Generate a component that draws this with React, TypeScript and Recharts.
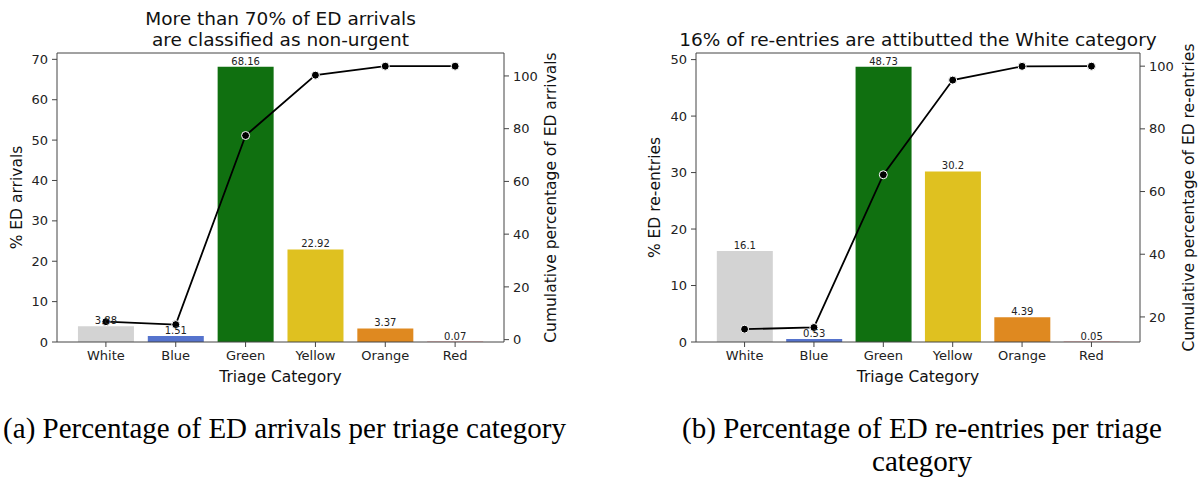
import React from 'react';
import { ComposedChart, Bar, Line, XAxis, YAxis, Cell, LabelList, ReferenceLine } from 'recharts';

const categories = ['White', 'Blue', 'Green', 'Yellow', 'Orange', 'Red'];
const barColors = ['#d3d3d3', '#5573cd', '#107010', '#dfc120', '#df8920', '#df2020'];

// (a) arrivals
const arrivalsPct = [3.88, 1.51, 68.16, 22.92, 3.37, 0.07];
const arrivalsCum = [6.8, 5.7, 77.4, 100.3, 103.7, 103.7];
const arrivalsPctTicks = [0, 10, 20, 30, 40, 50, 60, 70];
const arrivalsCumTicks = [0, 20, 40, 60, 80, 100];

// (b) re-entries
const reentryPct = [16.1, 0.53, 48.73, 30.2, 4.39, 0.05];
const reentryCum = [16.1, 16.63, 65.36, 95.56, 99.95, 100];
const reentryPctTicks = [0, 10, 20, 30, 40, 50];
const reentryCumTicks = [20, 40, 60, 80, 100];

const FONT = '"DejaVu Sans", sans-serif';
const SPINE = '#444';
const H = 400;
const TOP = 53;
const BOTTOM = 342;

interface PanelProps {
  x: number;
  width: number;
  leftW: number;
  rightW: number;
  pct: number[];
  cum: number[];
  pctDomain: [number, number];
  cumDomain: [number, number];
  pctTicks: number[];
  cumTicks: number[];
  title: string[];
  yLabel: string;
  cumLabel: string;
  yLabelX: number;
  cumLabelX: number;
  caption: string[];
}

const Panel: React.FC<PanelProps> = (p) => {
  const data = categories.map((c, i) => ({ cat: c, pct: p.pct[i], cum: p.cum[i] }));
  const plotW = p.width - p.leftW - p.rightW;
  const pad = plotW / 32;
  const cx = p.leftW + plotW / 2;
  const tick = { fontSize: 13, fill: '#222', fontFamily: FONT };
  return (
    <div style={{ position: 'absolute', left: p.x, top: 0, width: p.width, height: 479 }}>
      <ComposedChart
        width={p.width}
        height={H}
        data={data}
        margin={{ top: TOP, right: 0, bottom: 18, left: 0 }}
        barCategoryGap="10%"
      >
        <XAxis
          dataKey="cat"
          height={40}
          padding={{ left: pad, right: pad }}
          tick={tick}
          tickSize={5}
          tickMargin={4}
          axisLine={{ stroke: SPINE }}
          tickLine={{ stroke: SPINE }}
        />
        <YAxis
          yAxisId="pct"
          width={p.leftW}
          domain={p.pctDomain}
          ticks={p.pctTicks}
          allowDataOverflow
          tick={tick}
          tickSize={5}
          tickMargin={4}
          axisLine={{ stroke: SPINE }}
          tickLine={{ stroke: SPINE }}
        />
        <YAxis
          yAxisId="cum"
          orientation="right"
          width={p.rightW}
          domain={p.cumDomain}
          ticks={p.cumTicks}
          allowDataOverflow
          tick={tick}
          tickSize={5}
          tickMargin={4}
          axisLine={{ stroke: SPINE }}
          tickLine={{ stroke: SPINE }}
        />
        <ReferenceLine yAxisId="pct" y={p.pctDomain[1]} stroke={SPINE} />
        <Bar yAxisId="pct" dataKey="pct" isAnimationActive={false}>
          {data.map((d, i) => (
            <Cell key={d.cat} fill={barColors[i]} />
          ))}
          <LabelList dataKey="pct" position="top" offset={2} style={{ fontSize: 10, fill: '#222', fontFamily: FONT }} />
        </Bar>
        <Line
          yAxisId="cum"
          dataKey="cum"
          stroke="#000"
          strokeWidth={1.8}
          dot={{ r: 4, fill: '#000', stroke: '#fff', strokeWidth: 1 }}
          isAnimationActive={false}
        />
      </ComposedChart>
      <svg width={p.width} height={479} style={{ position: 'absolute', left: 0, top: 0, pointerEvents: 'none' }}>
        <g fontFamily={FONT} fill="#111">
          {p.title.map((t, i) => (
            <text
              key={t}
              x={cx}
              y={39 - (p.title.length - 1 - i) * 20.5}
              fontSize={18.5}
              textAnchor="middle"
              dominantBaseline="central"
            >
              {t}
            </text>
          ))}
          <text x={cx} y={377} fontSize={15.5} textAnchor="middle" dominantBaseline="central">
            Triage Category
          </text>
          <text
            x={p.yLabelX}
            y={(TOP + BOTTOM) / 2}
            fontSize={15.5}
            textAnchor="middle"
            dominantBaseline="central"
            transform={`rotate(-90 ${p.yLabelX} ${(TOP + BOTTOM) / 2})`}
          >
            {p.yLabel}
          </text>
          <text
            x={p.cumLabelX}
            y={(TOP + BOTTOM) / 2}
            fontSize={15.5}
            textAnchor="middle"
            dominantBaseline="central"
            transform={`rotate(-90 ${p.cumLabelX} ${(TOP + BOTTOM) / 2})`}
          >
            {p.cumLabel}
          </text>
        </g>
        <g fontFamily='"Liberation Serif", "Times New Roman", serif' fill="#000">
          {p.caption.map((c, i) => (
            <text key={c} x={cx + 4} y={428 + i * 33} fontSize={29} textAnchor="middle" dominantBaseline="central">
              {c}
            </text>
          ))}
        </g>
      </svg>
    </div>
  );
}

export default function App() {
  return (
    <div style={{ position: 'absolute', left: 0, top: 0, width: 1201, height: 479, background: '#fff' }}>
      <Panel
        x={0}
        width={600}
        leftW={57}
        rightW={96}
        pct={arrivalsPct}
        cum={arrivalsCum}
        pctDomain={[0, 71.57]}
        cumDomain={[-0.9, 108.7]}
        pctTicks={arrivalsPctTicks}
        cumTicks={arrivalsCumTicks}
        title={['More than 70% of ED arrivals', 'are classified as non-urgent']}
        yLabel="% ED arrivals"
        cumLabel="Cumulative percentage of ED arrivals"
        yLabelX={17}
        cumLabelX={551}
        caption={['(a) Percentage of ED arrivals per triage category']}
      />
      <Panel
        x={600}
        width={601}
        leftW={96}
        rightW={61}
        pct={reentryPct}
        cum={reentryCum}
        pctDomain={[0, 51.17]}
        cumDomain={[12.0, 104.2]}
        pctTicks={reentryPctTicks}
        cumTicks={reentryCumTicks}
        title={['16% of re-entries are attibutted the White category']}
        yLabel="% ED re-entries"
        cumLabel="Cumulative percentage of ED re-entries"
        yLabelX={55}
        cumLabelX={589}
        caption={['(b) Percentage of ED re-entries per triage', 'category']}
      />
    </div>
  );
}
